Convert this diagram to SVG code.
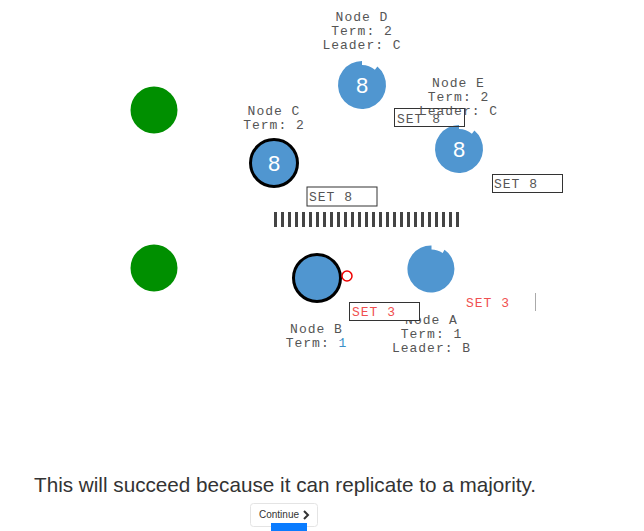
<svg xmlns="http://www.w3.org/2000/svg" width="644" height="531" viewBox="0 0 644 531">
<style>
.lbl{font-family:"Liberation Mono","DejaVu Sans Mono",monospace;font-size:13px;fill:#555;letter-spacing:1px;text-anchor:middle}
.msg{font-family:"Liberation Mono","DejaVu Sans Mono",monospace;font-size:13px;fill:#555;letter-spacing:1px}
.red{fill:#f05050}
.box{fill:#fff;stroke:#333;stroke-width:1}
.node{fill:#5096d0}
.lead{stroke:#000;stroke-width:3}
.val{font-family:"Liberation Sans",Arial,sans-serif;font-size:22px;fill:#fff;text-anchor:middle}
.client{fill:#008f00}
</style>
<rect width="644" height="531" fill="#fff"/>
<g id="clients">
<circle class="client" cx="154" cy="110" r="23.5"/>
<circle class="client" cx="154" cy="268" r="23.5"/>
</g>
<g id="partition">
<line x1="274" y1="219.5" x2="460" y2="219.5" stroke="#444" stroke-width="15" stroke-dasharray="3 4"/>
</g>
<g id="nodeD">
<path class="node" d="M377.4,66.6 A24,24 0 1 1 362,61 L362,65 A20,20 0 0 1 374.9,69.7 Z"/>
<text class="val" x="362" y="93">8</text>
<text class="lbl" x="362" y="21">Node D</text>
<text class="lbl" x="362" y="35">Term: 2</text>
<text class="lbl" x="362" y="49">Leader: C</text>
</g>
<g id="nodeC">
<circle class="node lead" cx="274" cy="163" r="23.5"/>
<text class="val" x="274" y="171">8</text>
<text class="lbl" x="274" y="115">Node C</text>
<text class="lbl" x="274" y="129">Term: 2</text>
</g>
<g id="nodeB">
<circle class="node lead" cx="317" cy="278" r="23.5"/>
<circle cx="347" cy="276" r="5" fill="#fff" stroke="#e00" stroke-width="1.5"/>
<text class="lbl" x="316.5" y="333">Node B</text>
<text class="lbl" x="316.5" y="347">Term: <tspan fill="#3a8fc8">1</tspan></text>
</g>
<g id="nodeA">
<path class="node" d="M444.5,249.8 A23.5,23.5 0 1 1 431.5,245.5 L431.5,249.5 A19.5,19.5 0 0 1 442.7,253.1 Z"/>
<text class="lbl" x="431.5" y="324">Node A</text>
<text class="lbl" x="431.5" y="338">Term: 1</text>
<text class="lbl" x="431.5" y="352">Leader: B</text>
</g>
<g id="connectors">
<rect class="box" x="307" y="187" width="70" height="19"/>
<text class="msg" x="309" y="201">SET 8</text>
<rect class="box" x="492.5" y="174.5" width="70" height="18"/>
<text class="msg" x="494" y="188">SET 8</text>
<rect class="box" x="349.5" y="302.5" width="70" height="18"/>
<text class="msg red" x="352" y="316">SET 3</text>
<text class="msg red" x="466" y="307">SET 3</text>
<line x1="535.5" y1="293" x2="535.5" y2="311" stroke="#aaa" stroke-width="1"/>
</g>
<g id="nodeE">
<path class="node" d="M474.4,130.6 A24,24 0 1 1 459,125 L459,129 A20,20 0 0 1 471.9,133.7 Z"/>
<text class="val" x="459" y="157">8</text>
<rect class="box" x="394.5" y="108.5" width="70" height="18" style="fill:none"/>
<text class="msg" x="397" y="123">SET 8</text>
<text class="lbl" x="458.5" y="87">Node E</text>
<text class="lbl" x="458.5" y="101">Term: 2</text>
<text class="lbl" x="458.5" y="115">Leader: C</text>
</g>
<g id="caption">
<text x="34" y="492" font-family="'Liberation Sans',Arial,sans-serif" font-size="20.7" fill="#333">This will succeed because it can replicate to a majority.</text>
</g>
<g id="continue">
<rect x="250.5" y="503.5" width="67" height="23" rx="3" fill="#fff" stroke="#e4e4e4"/>
<text x="259" y="518" font-family="'Liberation Sans',Arial,sans-serif" font-size="10" fill="#333">Continue</text>
<polyline points="304,511 308,515 304,519" fill="none" stroke="#333" stroke-width="2"/>
<rect x="271" y="523" width="36" height="8" fill="#0a7cff"/>
</g>
</svg>
